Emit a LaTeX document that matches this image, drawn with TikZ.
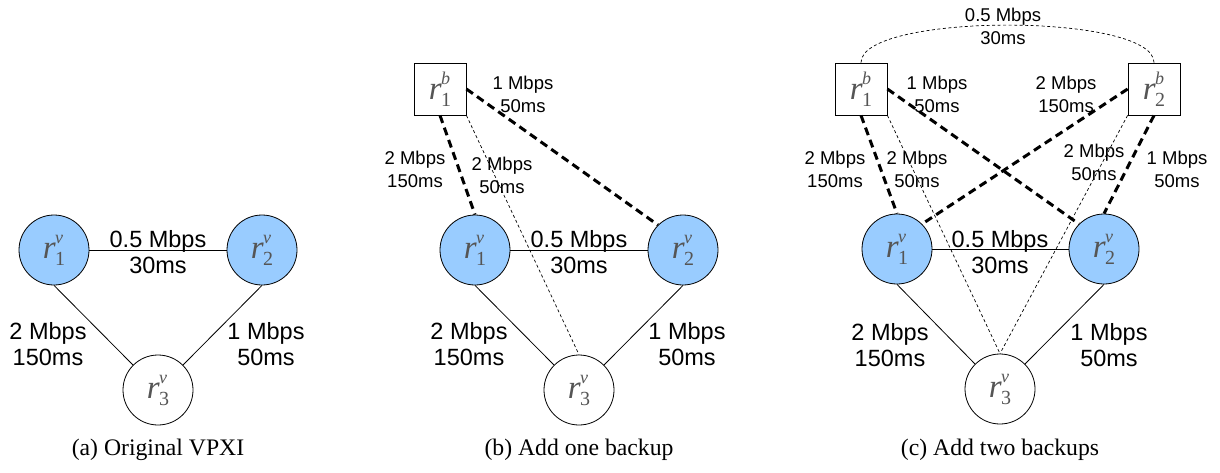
\documentclass[tikz,border=0pt]{standalone}
\usepackage{fontspec}
\setmainfont{Liberation Serif}
\setsansfont{Liberation Sans}
\usetikzlibrary{arrows}
\definecolor{vblue}{HTML}{99CCFF}
\definecolor{rgray}{HTML}{555555}
\newcommand{\rsym}[2]{{\color{rgray}\fontsize{33}{33}\selectfont\textit{r}\kern-0.5pt\rlap{\raisebox{15pt}{\fontsize{18}{18}\selectfont\textit{#1}}}\raisebox{-7pt}{\fontsize{20}{20}\selectfont #2}}}

\begin{document}
\begin{tikzpicture}[x=1pt,y=1pt]
\tikzstyle{every node}+=[inner sep=0pt]
\tikzstyle{vnode}=[draw, circle, minimum size=70pt, line width=0.8pt]
\tikzstyle{bnode}=[draw, rectangle, minimum size=52pt, line width=0.8pt]
\tikzstyle{vlink}=[line width=0.8pt]
\tikzstyle{bkthick}=[line width=3pt, dash pattern=on 8pt off 5pt]
\tikzstyle{bkthin}=[line width=0.7pt, dash pattern=on 3pt off 2.5pt]
\tikzstyle{biglab}=[align=center, font=\sffamily\fontsize{23.5}{26.5}\selectfont]
\tikzstyle{smalllab}=[align=center, font=\sffamily\fontsize{18.5}{23}\selectfont]
\tikzstyle{capt}=[font=\fontsize{23.7}{28}\selectfont]
\useasboundingbox (0,0) rectangle (1220,-472);
% (a) original VPXI
\node[vnode, fill=vblue] (a1) at (54,-250) {\rsym{v}{1}};
\node[vnode, fill=vblue] (a2) at (262,-250) {\rsym{v}{2}};
\node[vnode] (a3) at (158,-390) {\rsym{v}{3}};
\draw[vlink] (a1) -- (a2);
\draw[vlink] (a1.south) -- (a3.north west);
\draw[vlink] (a2.south) -- (a3.north east);
\node[biglab] (a12) at (158,-252) {0.5 Mbps\\30ms};
\node[biglab] (a13) at (48,-344) {2 Mbps\\150ms};
\node[biglab] (a23) at (266,-344) {1 Mbps\\50ms};
\node[capt] (acap) at (158,-450) {(a) Original VPXI};
% (b) one backup
\node[vnode, fill=vblue] (b1) at (475,-250) {\rsym{v}{1}};
\node[vnode, fill=vblue] (b2) at (683,-250) {\rsym{v}{2}};
\node[vnode] (b3) at (579,-390) {\rsym{v}{3}};
\node[bnode] (bb1) at (440,-89) {\rsym{b}{1}};
\draw[vlink] (b1) -- (b2);
\draw[vlink] (b1.south) -- (b3.north west);
\draw[vlink] (b2.south) -- (b3.north east);
\draw[bkthick] (bb1.south) -- (b1.north);
\draw[bkthick] (bb1.east) -- (b2.north west);
\draw[bkthin] (bb1.south east) -- (b3.north);
\node[biglab] (b12) at (579,-252) {0.5 Mbps\\30ms};
\node[biglab] (b13) at (469,-344) {2 Mbps\\150ms};
\node[biglab] (b23) at (687,-344) {1 Mbps\\50ms};
\node[smalllab] (bb1b1) at (415,-169) {2 Mbps\\150ms};
\node[smalllab] (bb1b3) at (502,-175) {2 Mbps\\50ms};
\node[smalllab] (bb1b2) at (523,-94) {1 Mbps\\50ms};
\node[capt] (bcap) at (579,-450) {(b) Add one backup};
% (c) two backups
\node[vnode, fill=vblue] (c1) at (897,-249) {\rsym{v}{1}};
\node[vnode, fill=vblue] (c2) at (1104,-249) {\rsym{v}{2}};
\node[vnode] (c3) at (1000,-389) {\rsym{v}{3}};
\node[bnode] (cb1) at (861,-89) {\rsym{b}{1}};
\node[bnode] (cb2) at (1154,-89) {\rsym{b}{2}};
\draw[vlink] (c1) -- (c2);
\draw[vlink] (c1.south) -- (c3.north west);
\draw[vlink] (c2.south) -- (c3.north east);
\draw[bkthick] (cb1.south) -- (c1.north);
\draw[bkthick] (cb1.east) -- (c2.north west);
\draw[bkthick] (cb2.west) -- (c1.north east);
\draw[bkthick] (cb2.south) -- (c2.north);
\draw[bkthin] (cb1.south east) -- (c3.north);
\draw[bkthin] (cb2.south west) -- (c3.north);
\draw[bkthin] (cb1.north) .. controls +(0,50) and +(0,50) .. (cb2.north);
\node[biglab] (c12) at (1000,-252) {0.5 Mbps\\30ms};
\node[biglab] (c13) at (890,-345) {2 Mbps\\150ms};
\node[biglab] (c23) at (1109,-345) {1 Mbps\\50ms};
\node[smalllab] (cbb) at (1003,-26) {0.5 Mbps\\30ms};
\node[smalllab] (cb1c1) at (835,-169) {2 Mbps\\150ms};
\node[smalllab] (cb1c3) at (917,-169) {2 Mbps\\50ms};
\node[smalllab] (cb1c2) at (937,-94) {1 Mbps\\50ms};
\node[smalllab] (cb2c1) at (1066,-94) {2 Mbps\\150ms};
\node[smalllab] (cb2c3) at (1094,-162) {2 Mbps\\50ms};
\node[smalllab] (cb2c2) at (1177,-169) {1 Mbps\\50ms};
\node[capt] (ccap) at (1000,-450) {(c) Add two backups};
\end{tikzpicture}
\end{document}
